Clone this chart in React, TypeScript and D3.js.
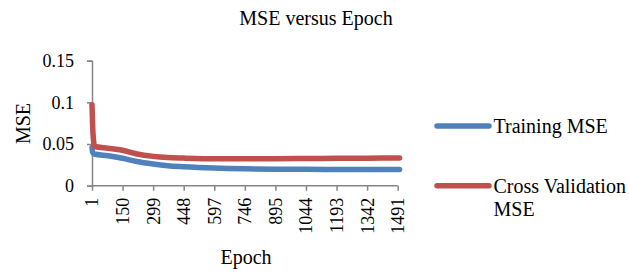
import React, { useEffect, useRef } from 'react';
import * as d3 from 'd3';

const tickLabels = [1, 150, 299, 448, 597, 746, 895, 1044, 1193, 1342, 1491];
const yTicks = [0, 0.05, 0.1, 0.15];

const trainEpochs = [1, 4, 12, 80, 150, 220, 299, 370, 448, 597, 746, 895, 1044, 1193, 1342, 1500];
const trainMse = [0.046, 0.040, 0.038, 0.036, 0.033, 0.029, 0.026, 0.024, 0.0228, 0.0212, 0.0203, 0.0198, 0.0196, 0.0195, 0.0194, 0.0193];

const cvEpochs = [1, 6, 14, 80, 150, 220, 299, 370, 448, 597, 746, 895, 1044, 1193, 1342, 1500];
const cvMse = [0.097, 0.062, 0.047, 0.045, 0.0425, 0.038, 0.0352, 0.0338, 0.0331, 0.0323, 0.0323, 0.0324, 0.0326, 0.0328, 0.033, 0.0332];

const series = [
  { name: 'Training MSE', color: '#4F81BD', epochs: trainEpochs, values: trainMse },
  { name: 'Cross Validation MSE', color: '#C0504D', epochs: cvEpochs, values: cvMse },
];

const font = "'Liberation Serif', 'Times New Roman', Times, serif";
const axisColor = '#868686';

export default function App() {
  const svgRef = useRef<SVGSVGElement>(null);

  useEffect(() => {
    if (!svgRef.current) return;
    const svg = d3.select(svgRef.current);
    svg.selectAll('*').remove();

    const x = d3.scaleLinear().domain([1, 1491]).range([92, 397.7]);
    const y = d3.scaleLinear().domain([0, 0.15]).range([185.7, 60.7]);

    // Title, centred on the whole chart area
    svg.append('text')
      .attr('x', 316).attr('y', 25)
      .attr('text-anchor', 'middle')
      .style('font-family', font).style('font-size', '20px')
      .text('MSE versus Epoch');

    // Y axis
    const yAxis = svg.append('g').attr('transform', `translate(${x(1)},0)`)
      .call(d3.axisLeft(y).tickValues(yTicks).tickSize(5).tickPadding(13)
        .tickFormat((d) => String(+d)));
    yAxis.attr('font-family', null).attr('font-size', null);
    yAxis.select('.domain').attr('stroke', axisColor).attr('stroke-width', 1.5);
    yAxis.selectAll('.tick line').attr('stroke', axisColor).attr('stroke-width', 1.5);
    yAxis.selectAll('.tick text')
      .style('font-family', font).style('font-size', '18px').attr('fill', '#000');

    // X axis
    const xAxis = svg.append('g').attr('transform', `translate(0,${y(0)})`)
      .call(d3.axisBottom(x).tickValues(tickLabels).tickSize(5).tickSizeOuter(0)
        .tickFormat((d) => String(d)));
    xAxis.attr('font-family', null).attr('font-size', null);
    xAxis.select('.domain').attr('stroke', axisColor).attr('stroke-width', 1.5)
      .attr('d', `M${x(1)},0H${x(1491)}`);
    xAxis.selectAll('.tick line').attr('stroke', axisColor).attr('stroke-width', 1.5);
    xAxis.selectAll('.tick text')
      .style('font-family', font).style('font-size', '18px').attr('fill', '#000')
      .attr('transform', 'rotate(-90)')
      .attr('text-anchor', 'end')
      .attr('dy', '0.33em')
      .attr('x', -12).attr('y', 0);

    // Axis titles
    svg.append('text')
      .attr('x', 246).attr('y', 264)
      .attr('text-anchor', 'middle')
      .style('font-family', font).style('font-size', '20px')
      .text('Epoch');
    svg.append('text')
      .attr('transform', 'translate(29.5,123.5) rotate(-90)')
      .attr('text-anchor', 'middle')
      .style('font-family', font).style('font-size', '20px')
      .text('MSE');

    // Lines
    const line = d3.line<[number, number]>()
      .x((d) => x(d[0]))
      .y((d) => y(d[1]))
      .curve(d3.curveMonotoneX);

    series.forEach((s) => {
      const pts: [number, number][] = s.epochs.map((e, i) => [e, s.values[i]]);
      svg.append('path')
        .attr('d', line(pts))
        .attr('fill', 'none')
        .attr('stroke', s.color)
        .attr('stroke-width', 5.5)
        .attr('stroke-linejoin', 'round')
        .attr('stroke-linecap', 'round');
    });

    // Legend
    const legend = [
      { y: 126, lines: ['Training MSE'] },
      { y: 185.7, lines: ['Cross Validation', 'MSE'] },
    ];
    legend.forEach((l, i) => {
      svg.append('line')
        .attr('x1', 437).attr('x2', 489)
        .attr('y1', l.y).attr('y2', l.y)
        .attr('stroke', series[i].color)
        .attr('stroke-width', 5.5)
        .attr('stroke-linecap', 'round');
      l.lines.forEach((t, j) => {
        svg.append('text')
          .attr('x', 493.5).attr('y', l.y + 7 + j * 23)
          .style('font-family', font).style('font-size', '20px')
          .text(t);
      });
    });
  }, []);

  return (
    <svg
      ref={svgRef}
      width={629}
      height={274}
      style={{ position: 'absolute', left: 0, top: 0, background: '#fff' }}
    />
  );
}
